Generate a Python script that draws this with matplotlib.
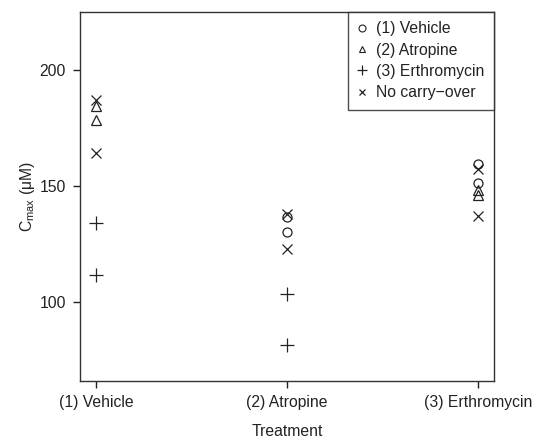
import numpy as np
import matplotlib
matplotlib.use("Agg")
import matplotlib.pyplot as plt
from matplotlib.lines import Line2D

plt.rcParams["font.family"] = ["Liberation Sans", "DejaVu Sans"]

treatments = ["(1) Vehicle", "(2) Atropine", "(3) Erthromycin"]

# (treatment index, Cmax) per carry-over group
vehicle_x = [2, 2, 3, 3]
vehicle_y = [136.8, 130.1, 159.4, 151.1]
atropine_x = [1, 1, 3, 3]
atropine_y = [184.5, 178.3, 148.4, 146.2]
erthro_x = [1, 1, 2, 2]
erthro_y = [134.0, 112.0, 103.6, 81.8]
nocarry_x = [1, 1, 2, 2, 3, 3]
nocarry_y = [187.0, 164.0, 138.0, 122.8, 157.4, 137.0]

col = "#222222"
fs = 11.3
fig = plt.figure(figsize=(5.33, 4.4), dpi=100)
ax = fig.add_axes([80 / 533, 1 - 381 / 440, 414 / 533, 369 / 440])

ms = 6.5
ax.plot(vehicle_x, vehicle_y, "o", mfc="none", mec=col, ms=ms, mew=0.9, ls="none")
ax.plot(atropine_x, atropine_y, "^", mfc="none", mec=col, ms=ms + 0.5, mew=0.9, ls="none")
ax.plot(erthro_x, erthro_y, "+", color=col, ms=10, mew=0.9, ls="none")
ax.plot(nocarry_x, nocarry_y, "x", color=col, ms=6.5, mew=0.9, ls="none")

ax.set_xlim(0.916, 3.084)
ax.set_ylim(66.3, 224.7)
ax.set_xticks([1, 2, 3])
ax.set_xticklabels(treatments)
ax.set_yticks([100, 150, 200])
ax.tick_params(labelsize=fs, colors=col, length=5, width=1, pad=5)
for s in ax.spines.values():
    s.set_color("#333333")
    s.set_linewidth(1)

ax.set_xlabel("Treatment", fontsize=fs, color=col, labelpad=10)
ax.set_ylabel(r"C$_{\mathregular{max}}$ (μM)", fontsize=fs, color=col, labelpad=2)

handles = [
    Line2D([], [], marker="o", mfc="none", mec=col, ls="none", ms=5, mew=0.8),
    Line2D([], [], marker="^", mfc="none", mec=col, ls="none", ms=5, mew=0.8),
    Line2D([], [], marker="+", color=col, ls="none", ms=7, mew=0.9),
    Line2D([], [], marker="x", color=col, ls="none", ms=5, mew=0.9),
]
labels = ["(1) Vehicle", "(2) Atropine", "(3) Erthromycin", "No carry\u2212over"]
leg = ax.legend(handles, labels, loc="upper right", bbox_to_anchor=(1.0, 1.0),
                fontsize=fs, frameon=True, fancybox=False, borderaxespad=0,
                handlelength=0.6, handletextpad=0.6, labelspacing=0.4,
                borderpad=0.6)
leg.get_frame().set_edgecolor("#222222")
leg.get_frame().set_linewidth(1)
for t in leg.get_texts():
    t.set_color(col)

fig.savefig("out.png", dpi=100)
